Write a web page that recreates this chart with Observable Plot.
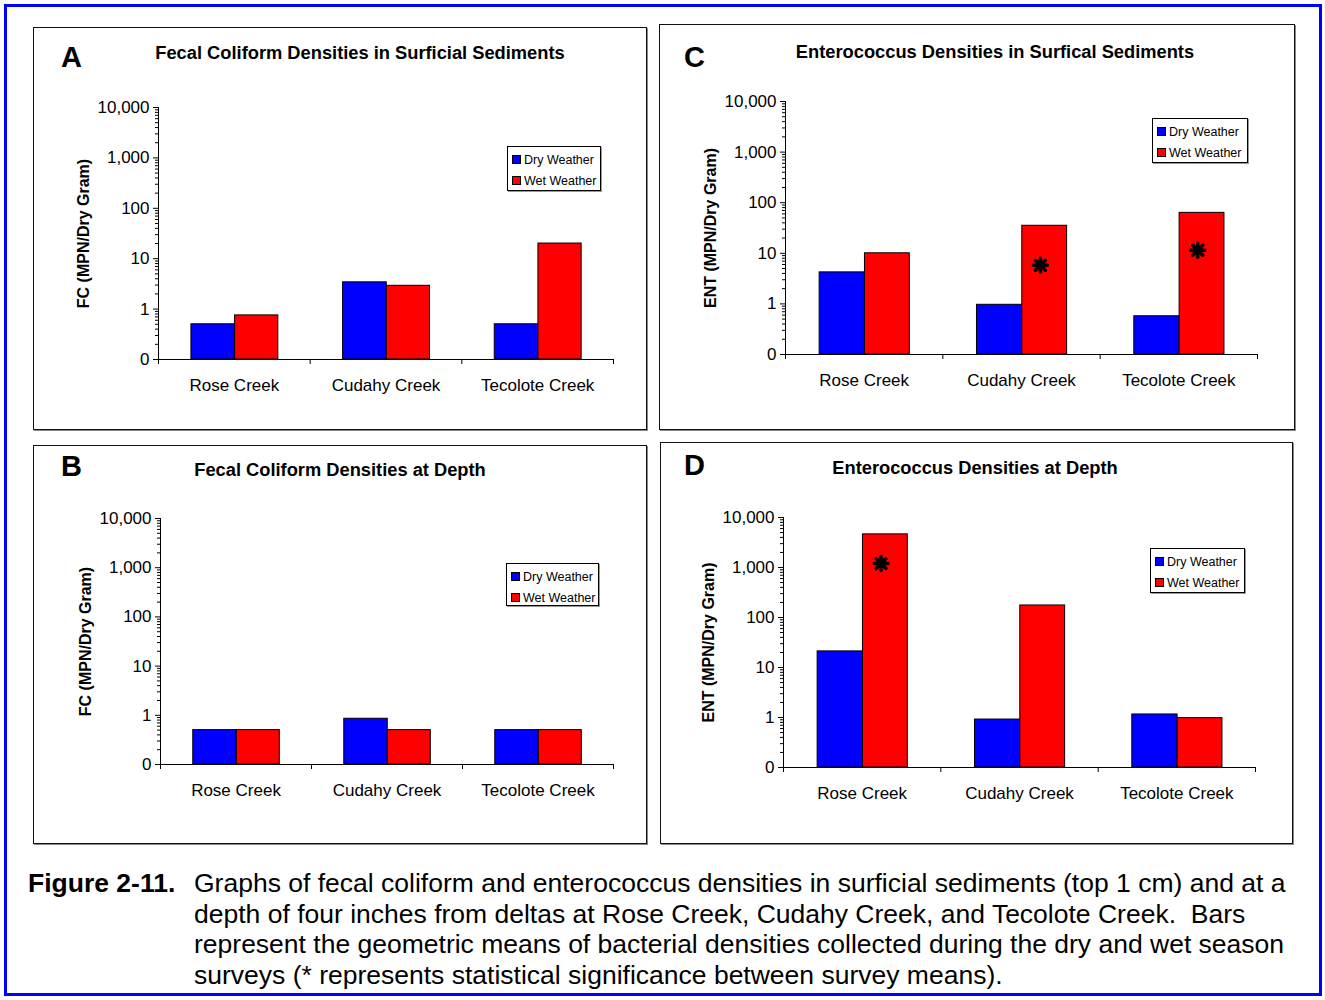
<!DOCTYPE html>
<html>
<head>
<meta charset="utf-8">
<script src="https://cdn.jsdelivr.net/npm/d3@7"></script>
<script src="https://cdn.jsdelivr.net/npm/@observablehq/plot@0.6"></script>
<style>
  html, body { margin: 0; padding: 0; background: #fff; }
  #root { position: relative; width: 1325px; height: 1000px; overflow: hidden;
          font-family: "Liberation Sans", Arial, sans-serif; color: #000; background: #fff; }
  .outer { position: absolute; left: 4px; top: 4px; width: 1318px; height: 992px;
           box-sizing: border-box; border: 3px solid #0000ff; }
  .box { position: absolute; box-sizing: border-box; border: 1.5px solid #111;
         box-shadow: 1px 1px 0 #888; }
  .chart { position: absolute; }
  .letter { position: absolute; font-weight: bold; font-size: 29px; line-height: 1; white-space: nowrap; }
  .title { position: absolute; font-weight: bold; font-size: 18.3px; line-height: 1; white-space: nowrap;
           transform: translateX(-50%); }
  .legend { position: absolute; box-sizing: border-box; background: #fff; border: 1px solid #000;
            box-shadow: 1px 1px 0 #999; padding-top: 2px; font-size: 12.5px; }
  .legend .row { height: 21px; display: flex; align-items: center; white-space: nowrap; }
  .legend .sw { width: 7px; height: 7px; border: 1px solid #000; margin-left: 4px; margin-right: 3px; }
  .caption { position: absolute; left: 28px; top: 868px; font-size: 26.5px; line-height: 30.5px;
             display: flex; white-space: nowrap; }
  .caption .fig { font-weight: bold; width: 166px; }
</style>
</head>
<body>
<div id="root"></div>
<script>
// ---------------- data ----------------
const creeks = ["Rose Creek", "Cudahy Creek", "Tecolote Creek"];
const series = ["Dry Weather", "Wet Weather"];
const seriesColors = ["#0000ff", "#ff0000"];
const yMajorTicks = [0.1, 1, 10, 100, 1000, 10000];

// A: Fecal coliform, surficial sediments
const fcSurfDry = [0.5, 3.4, 0.5];
const fcSurfWet = [0.75, 2.9, 20];
// B: Fecal coliform, at depth
const fcDepthDry = [0.5, 0.85, 0.5];
const fcDepthWet = [0.5, 0.5, 0.5];
// C: Enterococcus, surficial sediments
const entSurfDry = [4.2, 0.96, 0.57];
const entSurfWet = [10, 35, 63];
const entSurfStars = [null, 5.8, 11.5];
// D: Enterococcus, at depth
const entDepthDry = [21, 0.91, 1.15];
const entDepthWet = [4600, 174, 0.97];
const entDepthStars = [1200, null, null];

const captionLabel = "Figure 2-11.";
const captionLines = [
  "Graphs of fecal coliform and enterococcus densities in surficial sediments (top 1 cm) and at a",
  "depth of four inches from deltas at Rose Creek, Cudahy Creek, and Tecolote Creek.\u00a0 Bars",
  "represent the geometric means of bacterial densities collected during the dry and wet season",
  "surveys (* represents statistical significance between survey means)."
];

// ---------------- layout ----------------
const panels = [
  { letter: "A", title: "Fecal Coliform Densities in Surficial Sediments", ylabel: "FC (MPN/Dry Gram)",
    dry: fcSurfDry, wet: fcSurfWet, stars: [null, null, null],
    box: {x: 33, y: 27, w: 614, h: 403}, fr: {l: 158, r: 613, t: 107, b: 359},
    letterPos: {x: 61, base: 68}, titlePos: {cx: 360, base: 59},
    legend: {x: 507, y: 146, w: 94, h: 45} },
  { letter: "C", title: "Enterococcus Densities in Surfical Sediments", ylabel: "ENT (MPN/Dry Gram)",
    dry: entSurfDry, wet: entSurfWet, stars: entSurfStars,
    box: {x: 659, y: 24, w: 636, h: 406}, fr: {l: 785, r: 1257, t: 101, b: 354},
    letterPos: {x: 684, base: 68}, titlePos: {cx: 995, base: 58},
    legend: {x: 1152, y: 118, w: 96, h: 45} },
  { letter: "B", title: "Fecal Coliform Densities at Depth", ylabel: "FC (MPN/Dry Gram)",
    dry: fcDepthDry, wet: fcDepthWet, stars: [null, null, null],
    box: {x: 33, y: 445, w: 614, h: 399}, fr: {l: 160, r: 613, t: 518, b: 764},
    letterPos: {x: 61, base: 477}, titlePos: {cx: 340, base: 476},
    legend: {x: 506, y: 563, w: 93, h: 43} },
  { letter: "D", title: "Enterococcus Densities at Depth", ylabel: "ENT (MPN/Dry Gram)",
    dry: entDepthDry, wet: entDepthWet, stars: entDepthStars,
    box: {x: 660, y: 442, w: 633, h: 402}, fr: {l: 783, r: 1255, t: 517, b: 767},
    letterPos: {x: 684, base: 476}, titlePos: {cx: 975, base: 474},
    legend: {x: 1150, y: 548, w: 95, h: 45} }
];

const barStart = 0.217, barMid = 0.505, barEnd = 0.79, starPos = 0.62;
const yMinorTicks = [];
for (let e = -1; e < 4; e++) for (let m = 2; m <= 9; m++) yMinorTicks.push(m * Math.pow(10, e));

// 8-spoke asterisk symbol
const star8 = {
  draw(ctx, size) {
    const s = Math.sqrt(size / Math.PI);
    for (let k = 0; k < 4; k++) {
      const a = k * Math.PI / 4;
      ctx.moveTo(s * Math.cos(a), s * Math.sin(a));
      ctx.lineTo(-s * Math.cos(a), -s * Math.sin(a));
    }
    const c = s * 0.45;
    ctx.moveTo(c, 0);
    ctx.arc(0, 0, c, 0, 2 * Math.PI);
  }
};

const root = document.getElementById("root");
const outer = document.createElement("div");
outer.className = "outer";
root.appendChild(outer);

function el(cls, style, html) {
  const d = document.createElement("div");
  d.className = cls;
  Object.assign(d.style, style);
  if (html != null) d.innerHTML = html;
  root.appendChild(d);
  return d;
}

for (const p of panels) {
  const {box, fr} = p;
  el("box", {left: box.x + "px", top: box.y + "px", width: box.w + "px", height: box.h + "px"});

  const data = creeks.flatMap((c, i) => [
    {creek: c, i, weather: series[0], value: p.dry[i]},
    {creek: c, i, weather: series[1], value: p.wet[i]}
  ]);
  const starData = creeks.map((c, i) => ({creek: c, i, value: p.stars[i]})).filter(d => d.value != null);

  const chart = Plot.plot({
    width: box.w,
    height: box.h,
    marginLeft: fr.l - box.x,
    marginRight: box.x + box.w - fr.r,
    marginTop: fr.t - box.y,
    marginBottom: box.y + box.h - fr.b,
    style: {fontFamily: "'Liberation Sans', Arial, sans-serif", fontSize: "16px", background: "transparent", overflow: "visible", color: "#000"},
    x: {domain: [0, creeks.length], axis: null},
    y: {type: "log", domain: [yMajorTicks[0], yMajorTicks[yMajorTicks.length - 1]], axis: null},
    color: {domain: series, range: seriesColors},
    marks: [
      Plot.rectY(data, {
        x1: d => d.i + (d.weather === series[0] ? barStart : barMid),
        x2: d => d.i + (d.weather === series[0] ? barMid : barEnd),
        y1: yMajorTicks[0],
        y2: "value",
        fill: "weather",
        stroke: "#000",
        strokeWidth: 1
      }),
      Plot.ruleX([0], {stroke: "#000", strokeWidth: 1}),
      Plot.ruleY([yMajorTicks[0]], {stroke: "#000", strokeWidth: 1}),
      Plot.axisY({ticks: yMajorTicks, tickSize: 5, tickPadding: 4, tickFormat: d3.format(",.0f"), label: null, fontSize: 17}),
      Plot.axisY({ticks: yMinorTicks, tickSize: 3, tickFormat: () => "", label: null}),
      Plot.axisX({ticks: d3.range(creeks.length + 1), tickSize: 5, tickFormat: () => "", label: null}),
      Plot.axisX({ticks: creeks.map((c, i) => i + 0.5), tickSize: 0, tickPadding: 19,
                  tickFormat: v => creeks[Math.floor(v)], label: null, fontSize: 17}),
      Plot.text([p.ylabel], {frameAnchor: "left", textAnchor: "middle", rotate: -90, dx: -75,
                             fontWeight: "bold", fontSize: 16, fill: "#000"}),
      Plot.dot(starData, {x: d => d.i + starPos, y: "value", symbol: star8, r: 7,
                          fill: "#000", stroke: "#000", strokeWidth: 3.5, strokeLinecap: "round"})
    ]
  });
  chart.classList.add("chart");
  chart.style.left = box.x + "px";
  chart.style.top = box.y + "px";
  root.appendChild(chart);

  el("letter", {left: p.letterPos.x + "px", top: (p.letterPos.base - 0.8465 * 29) + "px"}, p.letter);
  el("title", {left: p.titlePos.cx + "px", top: (p.titlePos.base - 0.8465 * 18.3) + "px"}, p.title);

  const lg = el("legend", {left: p.legend.x + "px", top: p.legend.y + "px", width: p.legend.w + "px", height: p.legend.h + "px"});
  series.forEach((s, k) => {
    const row = document.createElement("div");
    row.className = "row";
    const sw = document.createElement("div");
    sw.className = "sw";
    sw.style.background = seriesColors[k];
    const t = document.createElement("span");
    t.textContent = s;
    row.appendChild(sw);
    row.appendChild(t);
    lg.appendChild(row);
  });
}

const cap = el("caption", {});
const fig = document.createElement("div");
fig.className = "fig";
fig.textContent = captionLabel;
const txt = document.createElement("div");
captionLines.forEach(line => {
  const d = document.createElement("div");
  d.textContent = line;
  txt.appendChild(d);
});
cap.appendChild(fig);
cap.appendChild(txt);
</script>
</body>
</html>
